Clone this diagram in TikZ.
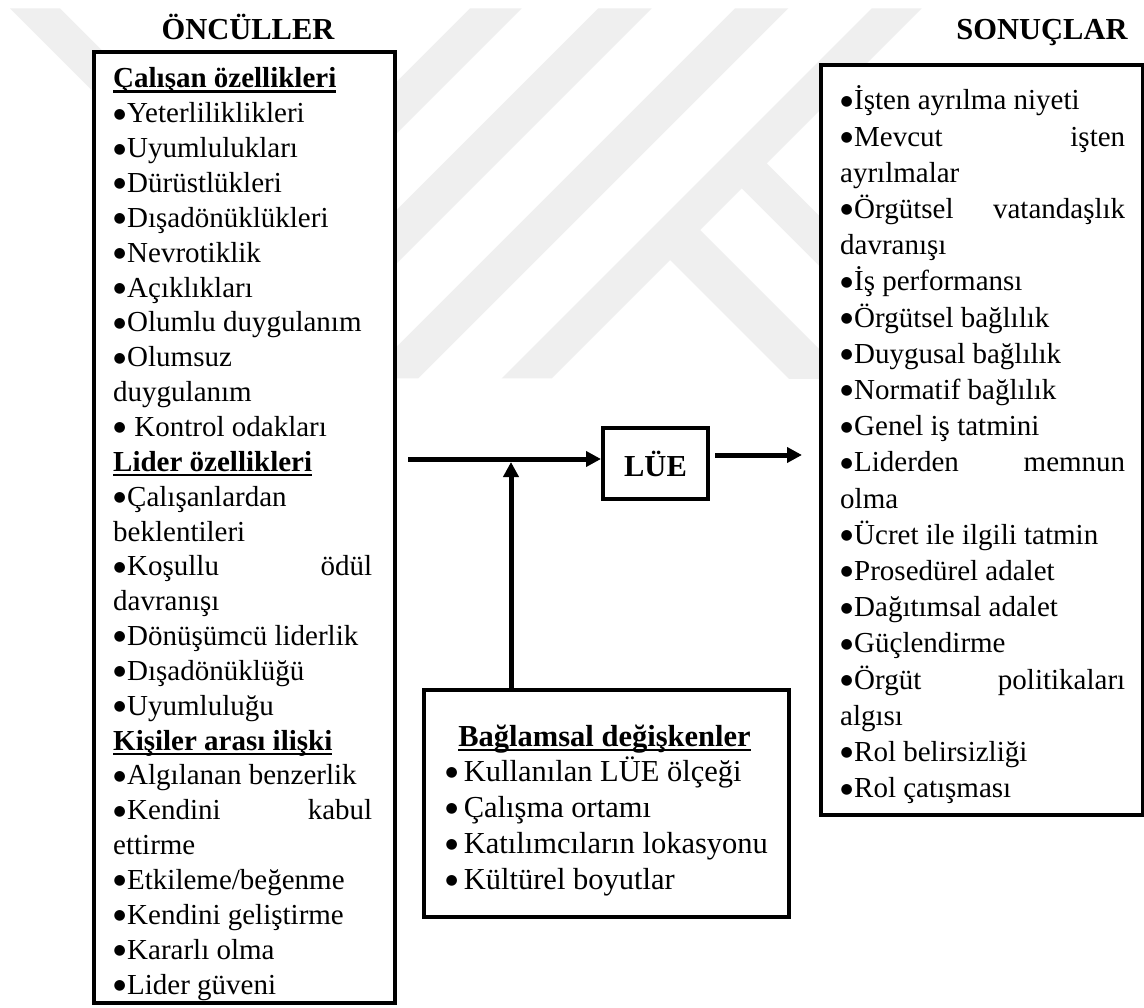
\documentclass[tikz,border=0pt]{standalone}
\usepackage{fontspec}
\setmainfont{Liberation Serif}
\newfontfamily\dotfont{DejaVu Sans}
\usetikzlibrary{arrows.meta}

% bold heading with a solid underline
\newcommand\hd[1]{\leavevmode\setbox0=\hbox{\bfseries #1}\rlap{\rule[-5pt]{\wd0}{2.5pt}}\box0}
% push the last word of a justified line to the right margin
\newcommand\gap{\hspace{0pt plus 1filll}}
% list bullet in a box of fixed width
\newcommand\bul[1][14pt]{\leavevmode\makebox[#1][l]{\rlap{\hspace{0.5pt}\raisebox{4.6pt}{\fontsize{14}{14}\dotfont ●}}}}

\definecolor{mark}{HTML}{EFEFEF}

\tikzset{
  frame/.style={draw, fill=white, line width=4pt, inner sep=0pt},
  flow/.style={line width=5pt, -{Triangle[length=15pt,width=15pt]}},
  title/.style={font=\fontsize{30.5}{36}\selectfont\bfseries, inner sep=0pt, anchor=base},
  body/.style={inner sep=0pt, anchor=base west, align=flush left},
  band/.style={fill=mark}
}

\begin{document}
\begin{tikzpicture}[x=1pt,y=-1pt]
\useasboundingbox (0,0) rectangle (1144,1008);
\fill[white] (0,0) rectangle (1144,1008);

% light background stripes
\begin{scope}
\clip (0,8.3) rectangle (1144,378.3);
\fill[band] (10,8.3) -- (60,8.3) -- (260,208.3) -- (210,208.3) -- cycle;
\fill[band] (470,8.3) -- (521.7,8.3) -- (151.7,378.3) -- (100,378.3) -- cycle;
\fill[band] (598.3,8.3) -- (651.7,8.3) -- (281.7,378.3) -- (228.3,378.3) -- cycle;
\fill[band] (735,8.3) -- (788.3,8.3) -- (418.3,378.3) -- (365,378.3) -- cycle;
\fill[band] (871.7,8.3) -- (921.7,8.3) -- (551.7,378.3) -- (501.7,378.3) -- cycle;
\fill[band] (751.7,148.3) -- (850,246.7) -- (850,296.7) -- (726.7,173.3) -- cycle;
\fill[band] (685,215) -- (900,430) -- (900,490) -- (655,245) -- cycle;
\end{scope}

% column titles
\node[title] (tleft) at (248,40) {ÖNCÜLLER};
\node[title] (tright) at (1042,40) {SONUÇLAR};

% frames
\node[frame, minimum width=301pt, minimum height=951pt, anchor=north west] (antec) at (92,50) {};
\node[frame, minimum width=322pt, minimum height=750pt, anchor=north west] (outc) at (819,63) {};
\node[frame, minimum width=365pt, minimum height=227pt, anchor=north west] (ctx) at (422,688) {};
\node[frame, minimum width=105pt, minimum height=71pt, font=\fontsize{30.5}{36}\selectfont\bfseries] (lue) at (655.5,463.5) {LÜE};

% antecedents
\node[body, text width=259pt, font=\fontsize{29}{34.85}\selectfont] (antectext) at (113,88) {%
\hd{Çalışan özellikleri}\\
\bul Yeterliliklikleri\\
\bul Uyumlulukları\\
\bul Dürüstlükleri\\
\bul Dışadönüklükleri\\
\bul Nevrotiklik\\
\bul Açıklıkları\\
\bul Olumlu duygulanım\\
\bul Olumsuz\\
duygulanım\\
\bul\ Kontrol odakları\\
\hd{Lider özellikleri}\\
\bul Çalışanlardan\\
beklentileri\\
\bul Koşullu\gap ödül\\
davranışı\\
\bul Dönüşümcü liderlik\\
\bul Dışadönüklüğü\\
\bul Uyumluluğu\\
\hd{Kişiler arası ilişki}\\
\bul Algılanan benzerlik\\
\bul Kendini\gap kabul\\
ettirme\\
\bul Etkileme/beğenme\\
\bul Kendini geliştirme\\
\bul Kararlı olma\\
\bul Lider güveni};

% outcomes
\node[body, text width=285pt, font=\fontsize{29}{36.2}\selectfont] (outctext) at (840,110) {%
\bul İşten ayrılma niyeti\\
\bul Mevcut\gap işten\\
ayrılmalar\\
\bul Örgütsel\gap vatandaşlık\\
davranışı\\
\bul İş performansı\\
\bul Örgütsel bağlılık\\
\bul Duygusal bağlılık\\
\bul Normatif bağlılık\\
\bul Genel iş tatmini\\
\bul Liderden\gap memnun\\
olma\\
\bul Ücret ile ilgili tatmin\\
\bul Prosedürel adalet\\
\bul Dağıtımsal adalet\\
\bul Güçlendirme\\
\bul Örgüt\gap politikaları\\
algısı\\
\bul Rol belirsizliği\\
\bul Rol çatışması};

% contextual variables
\node[title] (ctxhead) at (604.5,746) {\hd{Bağlamsal değişkenler}};
\node[body, text width=330pt, font=\fontsize{30.5}{36}\selectfont] (ctxtext) at (445,781) {%
\bul[11pt]\ Kullanılan LÜE ölçeği\\
\bul[11pt]\ Çalışma ortamı\\
\bul[11pt]\ Katılımcıların lokasyonu\\
\bul[11pt]\ Kültürel boyutlar};

% connectors
\coordinate (src) at (408,459);
\coordinate (junction) at (511,459);
\coordinate (dst) at (802,455);
\draw[flow] (src) -- (src -| lue.west);
\draw[flow] ([xshift=5pt]lue.east |- dst) -- (dst);
\draw[flow] (ctx.north -| junction) -- ([yshift=-3pt]junction);
\end{tikzpicture}
\end{document}
